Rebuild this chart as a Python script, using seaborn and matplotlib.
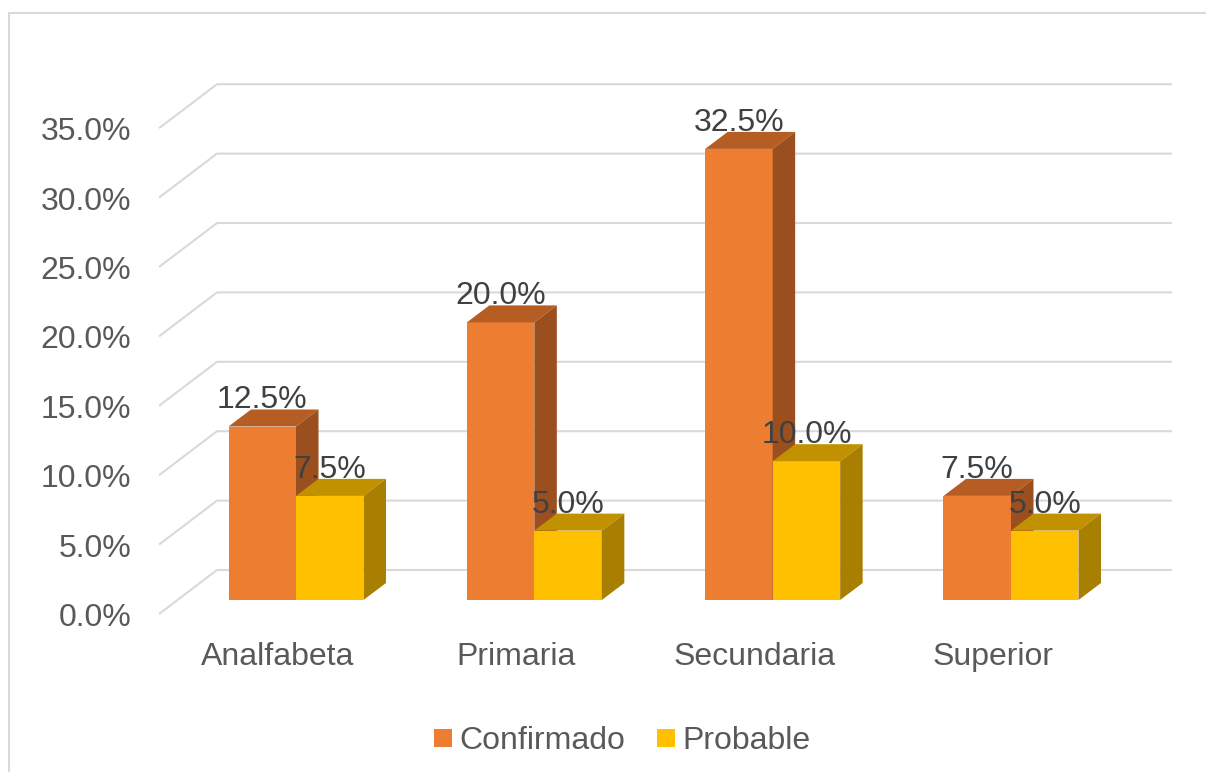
import seaborn as sns
import matplotlib.pyplot as plt
import pandas as pd
from matplotlib.patches import Polygon
from matplotlib.lines import Line2D

sns.set_style("white")
plt.rcParams['font.family'] = ['Liberation Sans', 'DejaVu Sans']

# data
categories = ['Analfabeta', 'Primaria', 'Secundaria', 'Superior']
confirmado = [12.5, 20.0, 32.5, 7.5]
probable = [7.5, 5.0, 10.0, 5.0]
series = ['Confirmado', 'Probable']
y_ticks = [0, 5, 10, 15, 20, 25, 30, 35]

df = pd.DataFrame({
    'nivel': categories * 2,
    'valor': confirmado + probable,
    'tipo': ['Confirmado'] * 4 + ['Probable'] * 4,
})

colors = {'Confirmado': '#ED7D31', 'Probable': '#FFC000'}
top_colors = {'Confirmado': '#B65D24', 'Probable': '#C29100'}
side_colors = {'Confirmado': '#9C4F1E', 'Probable': '#A87F00'}

# pixel layout of the 3D look -> data units
X0, XS = 296, 238.33   # px of first category, px per category
Y0, YS = 600, 13.88    # px of 0 %, px per 1 %
W, H = 1206, 772
dx, dy = 22.5 / XS, 17 / YS            # bar depth offset
back_x0, back_x1 = (217 - X0) / XS, (1172 - X0) / XS
back_dy = (Y0 - 570) / YS
side_x, side_dy = (159 - X0) / XS, (Y0 - 614) / YS
txt_dy = 4 / YS                         # nudge text down a bit

fig = plt.figure(figsize=(W / 100, H / 100), dpi=100)
ax = fig.add_axes([0, 0, 1, 1])

sns.barplot(data=df, x='nivel', y='valor', hue='tipo', hue_order=series,
            palette=colors, saturation=1, width=0.5664, gap=0, errorbar=None,
            linewidth=0, legend=False, ax=ax)

ax.set_xlim((0 - X0) / XS, (W - X0) / XS)
ax.set_ylim((Y0 - H) / YS, Y0 / YS)
ax.axis('off')

# back wall + side wall gridlines
for v in y_ticks:
    ax.plot([side_x, back_x0, back_x1],
            [v + side_dy, v + back_dy, v + back_dy],
            color='#D9D9D9', lw=1.5, zorder=0, solid_capstyle='butt')
    ax.text((131 - X0) / XS, v + side_dy - txt_dy, f'{v:.1f}%', ha='right',
            va='center', fontsize=23, color='#595959')

# 3D faces + data labels
for i, (name, cont) in enumerate(zip(series, ax.containers)):
    z = 2 + i
    for bar in cont:
        bar.set_zorder(z)
        x0, w, h = bar.get_x(), bar.get_width(), bar.get_height()
        x1 = x0 + w
        top = Polygon([(x0, h), (x1, h), (x1 + dx, h + dy), (x0 + dx, h + dy)],
                      closed=True, facecolor=top_colors[name], edgecolor='none', zorder=z)
        side = Polygon([(x1, 0), (x1 + dx, dy), (x1 + dx, h + dy), (x1, h)],
                       closed=True, facecolor=side_colors[name], edgecolor='none', zorder=z)
        ax.add_patch(top)
        ax.add_patch(side)
        ax.text(x0 + w / 2, h + 30 / YS - txt_dy, f'{h:.1f}%', ha='center', va='center',
                fontsize=23, color='#404040', zorder=5)

# category labels
for i, c in enumerate(categories):
    ax.text(i - 18 / XS, (Y0 - 653) / YS - txt_dy, c, ha='center', va='center',
            fontsize=23, color='#595959')

# legend
handles = [Line2D([], [], marker='s', ls='none', markersize=13,
                  markerfacecolor=colors[s], markeredgewidth=0) for s in series]
fig.legend(handles, series, loc='center', bbox_to_anchor=(0.513, 1 - 741 / H),
           ncol=2, frameon=False, fontsize=23, labelcolor='#595959',
           handletextpad=0.0, columnspacing=0.8, handlelength=1.0)

# chart border (top and left visible)
fig.add_artist(Line2D([9 / W, 1], [1 - 13 / H, 1 - 13 / H], color='#D9D9D9', lw=1.5))
fig.add_artist(Line2D([9 / W, 9 / W], [0, 1 - 13 / H], color='#D9D9D9', lw=1.5))

fig.savefig('out.png', dpi=100)
